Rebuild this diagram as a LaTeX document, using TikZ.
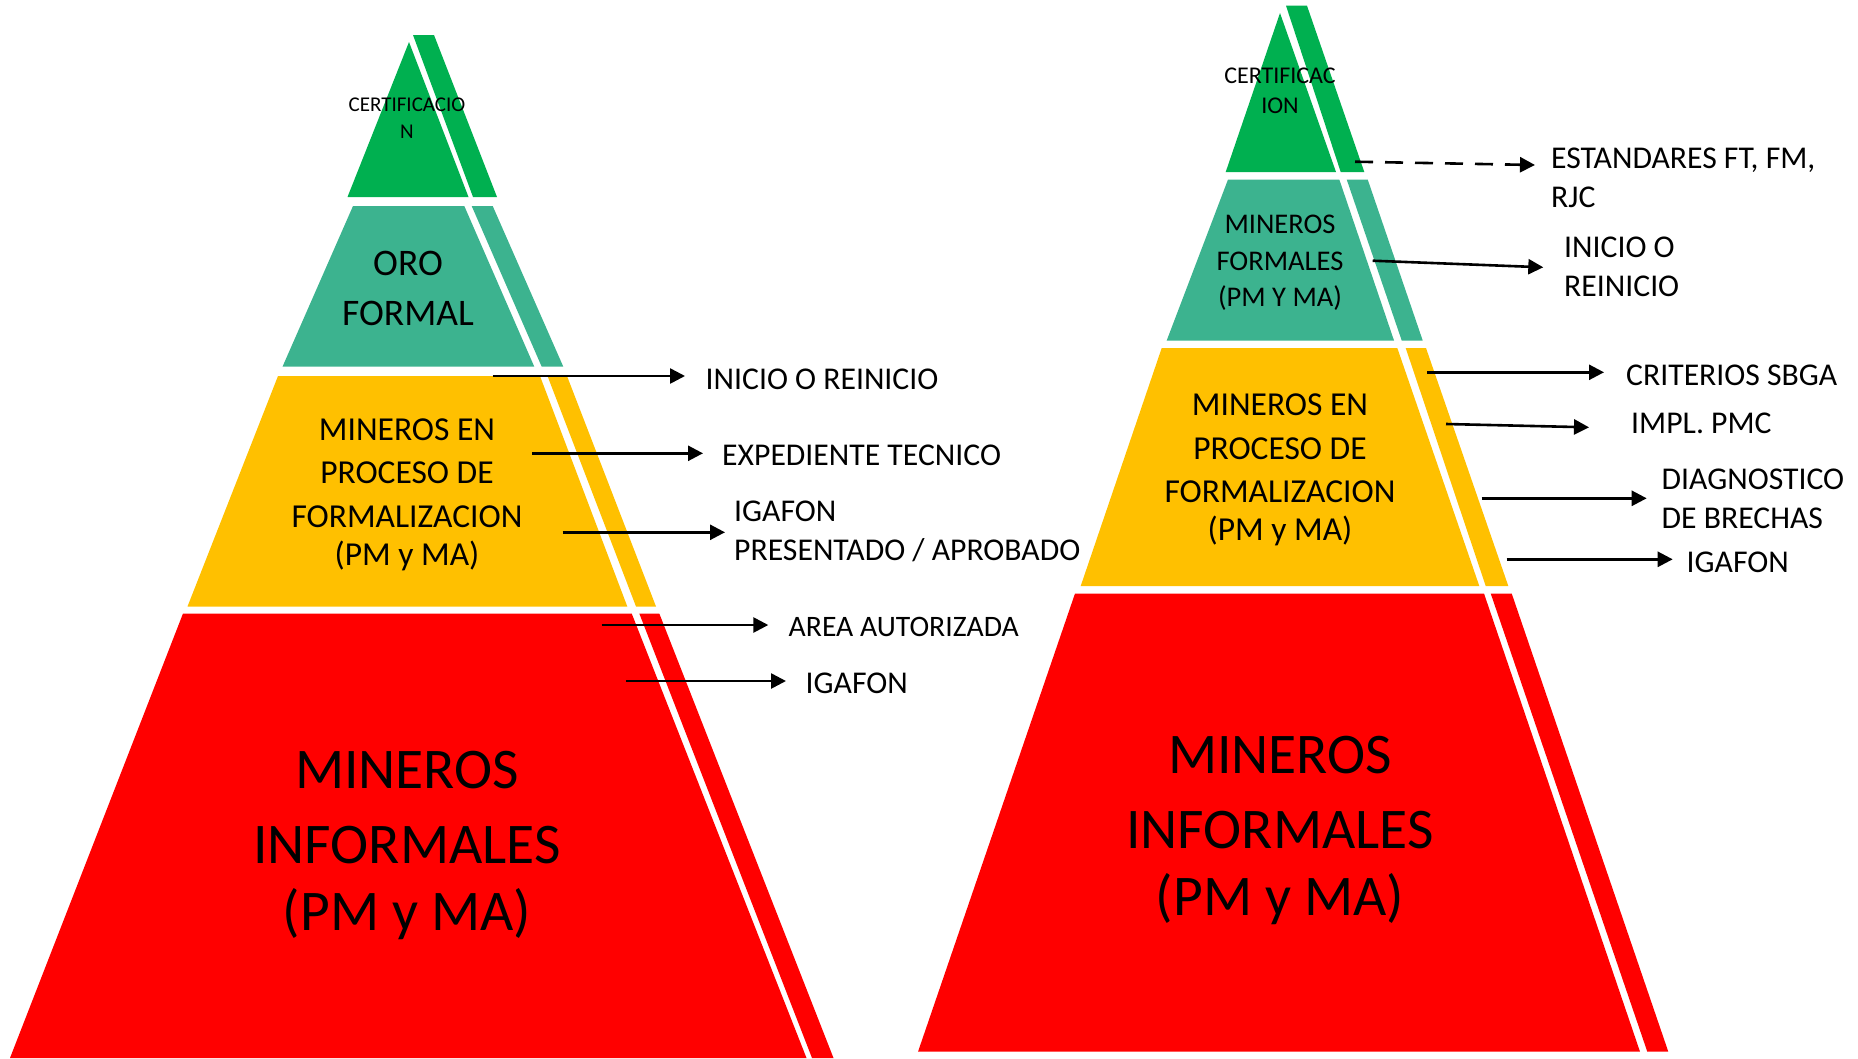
\documentclass[tikz,border=0pt]{standalone}
\usepackage{fontspec}
\setmainfont{Carlito}
\usetikzlibrary{arrows.meta}
\definecolor{certgreen}{HTML}{00B050}
\definecolor{formalteal}{HTML}{3CB38F}
\definecolor{procyellow}{HTML}{FFC000}
\definecolor{infored}{HTML}{FF0000}
\tikzset{arr/.style={line width=2.6pt, -{Triangle[length=15pt,width=15pt]}}}
\tikzset{lbl/.style={font=\fontsize{31.7}{39}\selectfont, align=left, anchor=base west, inner sep=0pt}}
\tikzset{tiertext/.style={align=center, anchor=base, inner sep=0pt}}

\begin{document}
\begin{tikzpicture}[x=1pt, y=-1pt]
    \useasboundingbox (0, 0) rectangle (1858, 1058);

    % left pyramid
    \fill[certgreen] (409, 42) -- (468.5, 197) -- (347.5, 197) -- cycle;
    \fill[certgreen] (413, 35) -- (434, 35) -- (497, 197) -- (473, 197) -- cycle;
    \fill[formalteal] (353, 206) -- (464.3, 206) -- (534.3, 366.7) -- (282.5, 366.7) -- cycle;
    \fill[formalteal] (471.7, 206) -- (492.7, 206) -- (563.3, 366.7) -- (541.7, 366.7) -- cycle;
    \fill[procyellow] (278, 376) -- (540, 376) -- (627.3, 606.5) -- (187.5, 606.5) -- cycle;
    \fill[procyellow] (547.5, 376) -- (567, 376) -- (656, 606.5) -- (636, 606.5) -- cycle;
    \fill[infored] (183, 613.5) -- (631.7, 613.5) -- (806.5, 1058) -- (10, 1058) -- cycle;
    \fill[infored] (639.3, 613.5) -- (659.3, 613.5) -- (833.5, 1058) -- (812, 1058) -- cycle;

    % base anchor = last line
    \node[tiertext, font=\fontsize{21}{26.5}\selectfont] (lcert) at (407, 138) {CERTIFICACIO\\N};
    \node[tiertext, font=\fontsize{37.5}{50}\selectfont] (loro) at (408, 325) {ORO\\FORMAL};
    \node[tiertext, font=\fontsize{33.5}{43.5}\selectfont] (lproc) at (407, 565)
        {MINEROS EN\\PROCESO DE\\FORMALIZACION\\[-5.5pt](PM y MA)};
    \node[tiertext, font=\fontsize{57.5}{75}\selectfont] (linf) at (407, 930)
        {MINEROS\\INFORMALES\\[-8pt](PM y MA)};

    \coordinate (ls1) at (492.7, 376);   \coordinate (le1) at (685, 376);
    \coordinate (ls2) at (532, 453.3);   \coordinate (le2) at (703, 453.3);
    \coordinate (ls3) at (562.7, 532.3); \coordinate (le3) at (725, 532.3);
    \coordinate (ls4) at (601.7, 625);   \coordinate (le4) at (768.3, 625);
    \coordinate (ls5) at (626, 681);     \coordinate (le5) at (786, 681);
    \draw[arr] (ls1) -- (le1);
    \draw[arr] (ls2) -- (le2);
    \draw[arr] (ls3) -- (le3);
    \draw[arr] (ls4) -- (le4);
    \draw[arr] (ls5) -- (le5);
    \node[lbl] (lt1) at (705.5, 389.3) {INICIO O REINICIO};
    \node[lbl] (lt2) at (722, 465) {EXPEDIENTE TECNICO};
    \node[lbl] (lt3) at (734, 560) {IGAFON\\PRESENTADO / APROBADO};
    \node[lbl, font=\fontsize{29.7}{36}\selectfont] (lt4) at (788.5, 636) {AREA AUTORIZADA};
    \node[lbl] (lt5) at (805.5, 693.3) {IGAFON};

    % right pyramid
    \fill[certgreen] (1280, 13) -- (1336, 172) -- (1225.7, 172) -- cycle;
    \fill[certgreen] (1286, 5.7) -- (1307, 5.7) -- (1364.3, 172) -- (1340.7, 172) -- cycle;
    \fill[formalteal] (1228, 179.5) -- (1339.3, 179.5) -- (1394, 340.5) -- (1166.7, 340.5) -- cycle;
    \fill[formalteal] (1346.7, 179.5) -- (1367.7, 179.5) -- (1422.7, 340.5) -- (1401.7, 340.5) -- cycle;
    \fill[procyellow] (1161.7, 348) -- (1397.3, 348) -- (1479.3, 586) -- (1080.7, 586) -- cycle;
    \fill[procyellow] (1405.7, 348) -- (1426, 348) -- (1508.3, 586) -- (1485.7, 586) -- cycle;
    \fill[infored] (1075, 593.5) -- (1484, 593.5) -- (1640, 1051.7) -- (918, 1051.7) -- cycle;
    \fill[infored] (1490.7, 593.5) -- (1511.7, 593.5) -- (1668.3, 1051.7) -- (1647.3, 1051.7) -- cycle;

    \node[tiertext, font=\fontsize{24}{30}\selectfont] (rcert) at (1280, 113) {CERTIFICAC\\ION};
    \node[tiertext, font=\fontsize{28.5}{36.7}\selectfont] (rform) at (1280, 306.7)
        {MINEROS\\FORMALES\\(PM Y MA)};
    \node[tiertext, font=\fontsize{33.5}{43.5}\selectfont] (rproc) at (1280, 540)
        {MINEROS EN\\PROCESO DE\\FORMALIZACION\\[-6pt](PM y MA)};
    \node[tiertext, font=\fontsize{57.5}{75}\selectfont] (rinf) at (1280, 915)
        {MINEROS\\INFORMALES\\[-8pt](PM y MA)};

    \coordinate (rs1) at (1355, 161.7);   \coordinate (re1) at (1535, 165);
    \coordinate (rs2) at (1372.7, 260.7); \coordinate (re2) at (1543.3, 267.3);
    \coordinate (rs3) at (1427.3, 372.3); \coordinate (re3) at (1604, 372.3);
    \coordinate (rs4) at (1446, 424);     \coordinate (re4) at (1589, 427.3);
    \coordinate (rs5) at (1481.7, 498.3); \coordinate (re5) at (1646.7, 498.3);
    \coordinate (rs6) at (1506.7, 559.3); \coordinate (re6) at (1672.7, 559.3);
    \draw[arr, dash pattern=on 18pt off 12pt] (rs1) -- (re1);
    \draw[arr] (rs2) -- (re2);
    \draw[arr] (rs3) -- (re3);
    \draw[arr] (rs4) -- (re4);
    \draw[arr] (rs5) -- (re5);
    \draw[arr] (rs6) -- (re6);
    \node[lbl] (rt1) at (1551, 207.3) {ESTANDARES FT, FM,\\RJC};
    \node[lbl] (rt2) at (1564, 296.7) {INICIO O\\REINICIO};
    \node[lbl] (rt3) at (1626, 385) {CRITERIOS SBGA};
    \node[lbl] (rt4) at (1631, 433.3) {IMPL. PMC};
    \node[lbl] (rt5) at (1661.5, 528.3) {DIAGNOSTICO\\DE BRECHAS};
    \node[lbl] (rt6) at (1686.5, 572.7) {IGAFON};

    % \draw[help lines] (0,0) grid[step=100] (1858,1058);
\end{tikzpicture}
\end{document}
